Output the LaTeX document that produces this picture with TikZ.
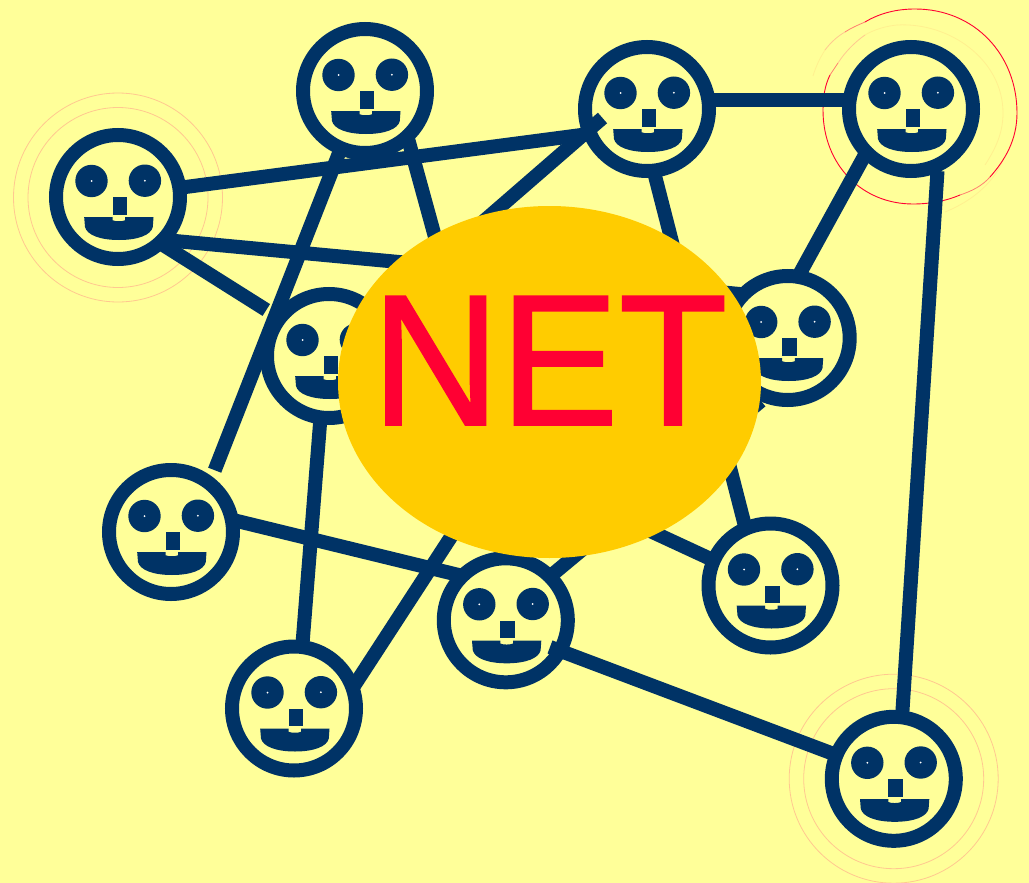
\documentclass[tikz,border=0pt]{standalone}
\usepackage{fontspec}
\setmainfont{Liberation Sans}
\newfontfamily\netfont[FakeBold=1]{Liberation Sans}
\usetikzlibrary{shapes.geometric}
\definecolor{paper}{HTML}{FFFF99}
\definecolor{navy}{HTML}{003366}
\definecolor{sun}{HTML}{FFCC00}
\definecolor{signal}{HTML}{FF0033}
\definecolor{peach}{HTML}{FFC890}
\definecolor{pale}{HTML}{FFF090}
\definecolor{midred}{HTML}{FF8070}
\tikzset{
  x=1pt,y=-1pt,
  ring/.style={circle,draw=navy,line width=14pt,minimum size=124pt,inner sep=0pt},
  link/.style={draw=navy,line width=14pt,line cap=butt},
  halo/.style={draw=peach,line width=0.8pt,fill=none},
  halofaint/.style={draw=pale,line width=0.8pt,fill=none},
  halomid/.style={draw=midred,line width=0.8pt,fill=none},
  halored/.style={draw=signal,line width=0.9pt,fill=none},
  hub/.style={ellipse,fill=sun,minimum width=423pt,minimum height=352pt,inner sep=0pt},
  hubtext/.style={text=signal,inner sep=0pt,anchor=base,font=\netfont\fontsize{178}{178}\selectfont},
  facepic/.pic={
    \fill[navy] (-26.5,-16) circle (16.2);
    \fill[navy] (26.9,-16.3) circle (16.2);
    \fill[white] (-26.5,-16) circle (1);
    \fill[white] (26.9,-16.3) circle (1);
    \fill[navy] (-5.5,0.2) rectangle (9.2,17.8);
    \fill[navy] (-33.8,20.2) -- (-5.5,20.2) -- (-5.5,23.2) .. controls (-3,24.6) and (4.5,24.6) .. (7.2,23.2)
      -- (7.2,20.2) -- (35.5,20.2) -- (34.8,30) .. controls (33,38) and (20,43) .. (1,43)
      .. controls (-18,43) and (-31,38) .. (-33,30) -- cycle;
  }
}
\begin{document}
\begin{tikzpicture}
\path[use as bounding box,fill=paper] (0,0) rectangle (1029,883);
% halos
\draw[halo] (118,197.5) circle (104.5);
\draw[halo] (118,197.5) circle (90);
\draw[halo] (893.7,778.7) circle (104.5);
\draw[halo] (893.7,778.7) circle (90);
\draw[halofaint] (897,25) .. controls (950,22) and (1003,60) .. (1003,113) .. controls (1003,130) and (998,145) .. (985,165);
\draw[halofaint] (1003,160) .. controls (995,180) and (975,200) .. (945,212);
\draw[halofaint] (813,76) .. controls (816,66) and (820,58) .. (825,50);
\draw[halo] (825,50) .. controls (831,42) and (838,36) .. (845,32);
\draw[halomid] (845,32) .. controls (851,28) and (858,25) .. (865,22);
\draw[halofaint] (865,35) .. controls (875,29) and (887,26) .. (897,25);
\draw[halo] (838,63) .. controls (845,52) and (855,42) .. (865,35);
\draw[halomid] (830,75) -- (838,63);
\draw[halored] (865,22) .. controls (880,13) and (897,9) .. (915,9)
  .. controls (975,9) and (1017,55) .. (1017,113)
  .. controls (1017,140) and (1005,160) .. (990,177);
\draw[halomid] (990,177) .. controls (982,186) and (972,191) .. (960,195);
\draw[halored] (960,195) .. controls (946,201) and (930,204) .. (913,204)
  .. controls (862,204) and (823,165) .. (823,110)
  .. controls (823,97) and (825,85) .. (830,75);
% link ends
\coordinate (a1) at (178,188);      \coordinate (a3) at (592,133.6);
\coordinate (b3) at (602.5,118);    \coordinate (b6) at (375,315.5);
\coordinate (c3) at (706,100.3);    \coordinate (c4) at (850,100.3);
\coordinate (d2) at (341,148);      \coordinate (d7) at (214.7,470.2);
\coordinate (e2) at (407,135);      \coordinate (e9) at (510,510);
\coordinate (g3) at (653.5,170);    \coordinate (g8) at (746,530);
\coordinate (h4) at (866,153);      \coordinate (h5) at (799,275);
\coordinate (i4) at (937.5,171);    \coordinate (i11) at (902,718);
\coordinate (j1) at (170,240.5);    \coordinate (j5) at (745,294.5);
\coordinate (k1) at (160,243);      \coordinate (k6) at (266.3,310);
\coordinate (l6) at (320.3,420);    \coordinate (l10) at (302.4,645);
\coordinate (m7) at (233,520);      \coordinate (m9) at (462,575.8);
\coordinate (n10) at (352,689);     \coordinate (nh) at (527,420);
\coordinate (o9) at (553,574);      \coordinate (o5) at (761,401);
\coordinate (p8) at (715,561);      \coordinate (ph) at (620,517);
\coordinate (q9) at (550,647);      \coordinate (q11) at (835,754.5);
\foreach \s/\t in {a1/a3,b3/b6,c3/c4,d2/d7,e2/e9,g3/g8,h4/h5,i4/i11,j1/j5,k1/k6,l6/l10,m7/m9,n10/nh,o9/o5,p8/ph,q9/q11}
  \draw[link] (\s) -- (\t);
% faces
\foreach \n/\px/\py in {f1/118/197,f2/365/91,f3/647/109,f4/911/109,f5/787.7/338,f6/329/356,f7/171/532,f8/770.5/585.5,f9/505.8/620.3,f10/294/708.5,f11/893.8/778.8}{
  \node[ring] (\n) at (\px,\py) {};
  \pic at (\n.center) {facepic};
}
% hub
\node[hub] (net) at (549.5,382) {};
\node[hubtext] (nettext) at (549.5,425) {\scalebox{1}[1.05]{NET}};
\end{tikzpicture}
\end{document}
